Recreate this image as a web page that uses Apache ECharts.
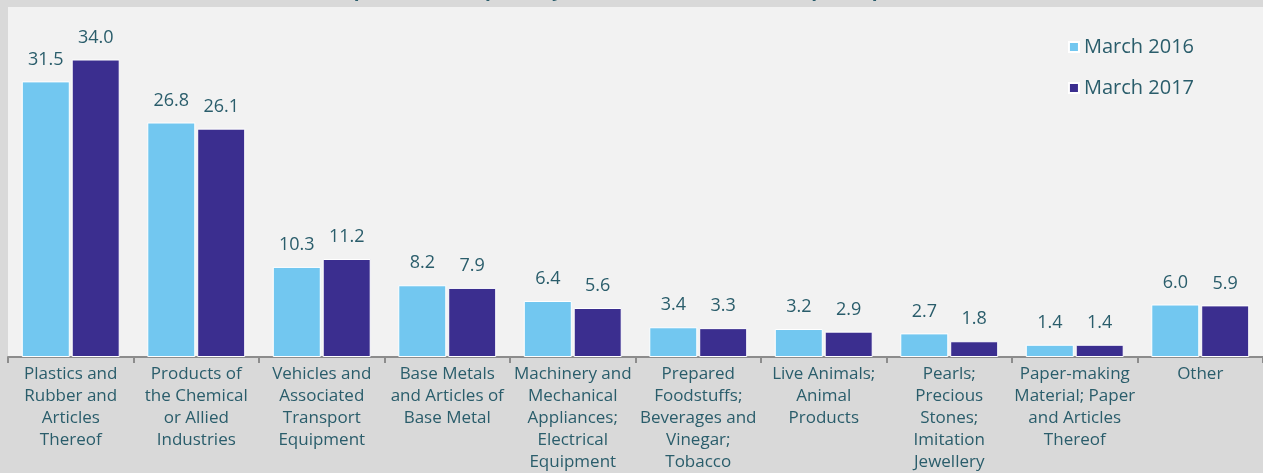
<!DOCTYPE html>
<html>
<head>
<meta charset="utf-8">
<style>
  html, body { margin: 0; padding: 0; background: #d9d9d9; }
  #chart { width: 1263px; height: 473px; }
</style>
<script src="https://cdn.jsdelivr.net/npm/echarts@6/dist/echarts.min.js"></script>
</head>
<body>
<div id="chart"></div>
<script>
const categories = [
  "Plastics and\nRubber and\nArticles\nThereof",
  "Products of\nthe Chemical\nor Allied\nIndustries",
  "Vehicles and\nAssociated\nTransport\nEquipment",
  "Base Metals\nand Articles of\nBase Metal",
  "Machinery and\nMechanical\nAppliances;\nElectrical\nEquipment",
  "Prepared\nFoodstuffs;\nBeverages and\nVinegar;\nTobacco",
  "Live Animals;\nAnimal\nProducts",
  "Pearls;\nPrecious\nStones;\nImitation\nJewellery",
  "Paper-making\nMaterial; Paper\nand Articles\nThereof",
  "Other"
];
const march2016 = [31.5, 26.8, 10.3, 8.2, 6.4, 3.4, 3.2, 2.7, 1.4, 6.0];
const march2017 = [34.0, 26.1, 11.2, 7.9, 5.6, 3.3, 2.9, 1.8, 1.4, 5.9];

const textColor = "#2a5d6b";
const font = "Open Sans";

const chart = echarts.init(document.getElementById("chart"));

const labelStyle = {
  show: true,
  position: "top",
  distance: 13,
  color: textColor,
  fontFamily: font,
  fontSize: 18,
  formatter: p => p.value.toFixed(1),
};

const option = {
  backgroundColor: "#d9d9d9",
  animation: false,
  title: {
    text: "Composition of Imports by Product (share of total imports, percent)",
    left: "center",
    top: -24,
    textStyle: { color: textColor, fontFamily: font, fontSize: 19, fontWeight: "bold" },
  },
  legend: {
    orient: "vertical",
    right: 64,
    top: 32,
    itemWidth: 10,
    itemHeight: 10,
    itemGap: 21,
    icon: "rect",
    textStyle: { color: textColor, fontFamily: font, fontSize: 20 },
  },
  grid: {
    left: 8,
    right: 0,
    top: 7,
    bottom: 116,
    outerBoundsMode: "none",
    show: true,
    backgroundColor: "#f2f2f2",
    borderWidth: 0,
  },
  xAxis: {
    type: "category",
    data: categories,
    axisLine: { lineStyle: { color: "#8c8c8c", width: 2 } },
    axisTick: { show: true, length: 6, lineStyle: { color: "#8c8c8c", width: 2 } },
    axisLabel: {
      interval: 0,
      color: textColor,
      fontFamily: font,
      fontSize: 17,
      lineHeight: 22,
      margin: 6,
    },
  },
  yAxis: {
    type: "value",
    min: 0,
    max: 40,
    show: false,
  },
  series: [
    {
      name: "March 2016",
      type: "bar",
      data: march2016,
      barWidth: 48,
      barGap: "4%",
      itemStyle: { color: "#72c7f0", borderColor: "#ffffff", borderWidth: 1 },
      label: labelStyle,
    },
    {
      name: "March 2017",
      type: "bar",
      data: march2017,
      barWidth: 48,
      itemStyle: { color: "#3b2e8f", borderColor: "#ffffff", borderWidth: 1 },
      label: labelStyle,
    },
  ],
};

chart.setOption(option);
</script>
</body>
</html>
